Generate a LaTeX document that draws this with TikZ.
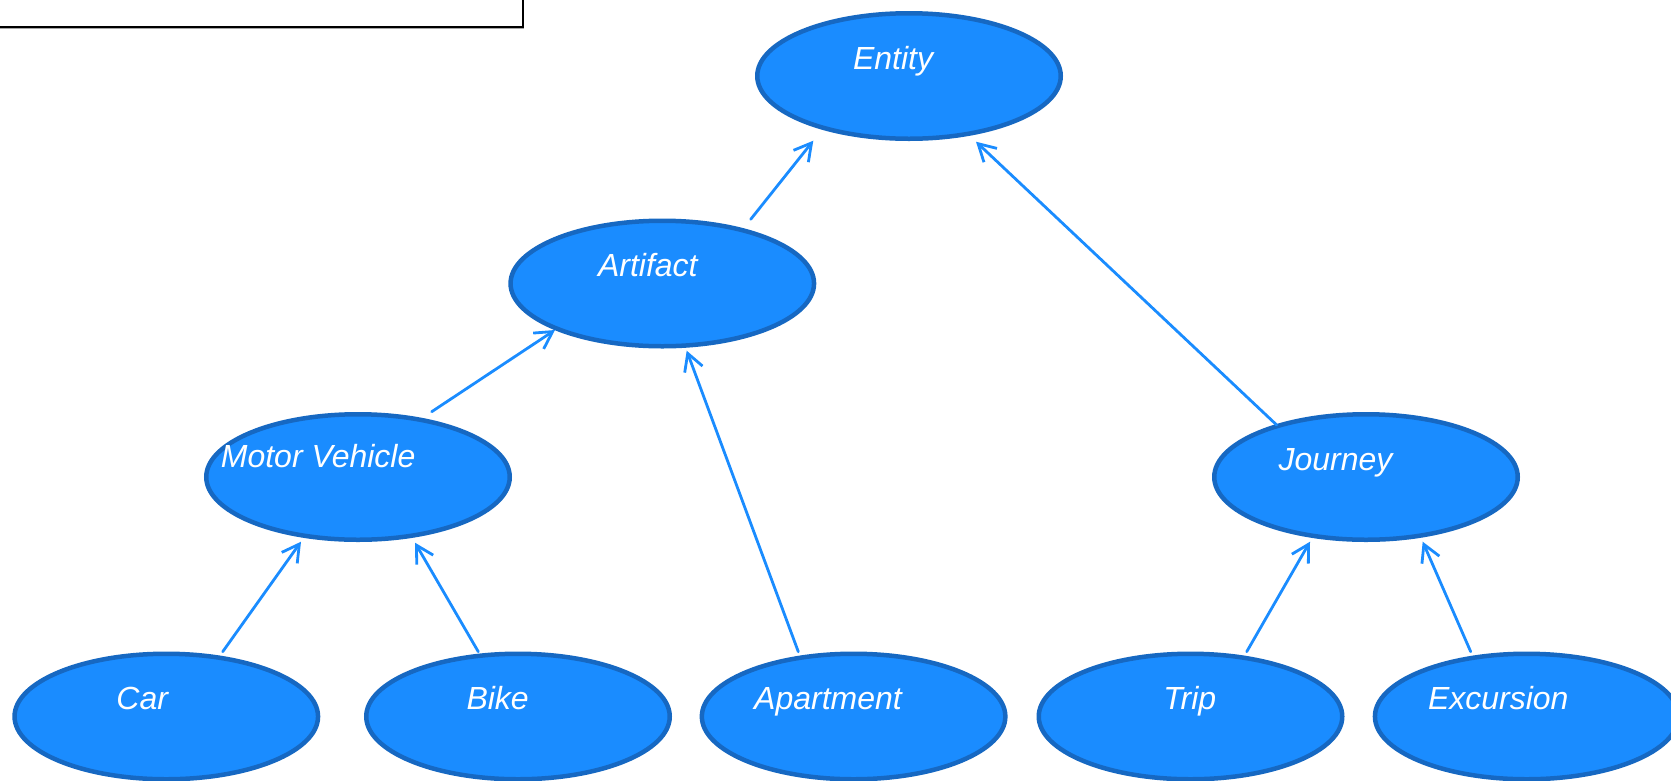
\documentclass[tikz,border=0pt]{standalone}
\usepackage{fontspec}
\setmainfont{Liberation Sans}
\usetikzlibrary{calc,shapes.geometric,arrows.meta,shadows}

\definecolor{classfill}{HTML}{1A8CFF}
\definecolor{classborder}{HTML}{1668C2}
\definecolor{linkblue}{HTML}{1A8CFF}

\tikzset{
  classnode/.style={ellipse, draw=classborder, fill=classfill, line width=4.5pt,
    minimum width=303.5pt, minimum height=125.5pt, inner sep=0pt},
  classlabel/.style={anchor=base west, inner sep=0pt, text=white,
    font=\fontsize{32}{36}\selectfont\itshape},
  isa/.style={draw=linkblue, line width=2.8pt, line cap=round,
    -{Straight Barb[length=17pt,width=19pt,line width=2.8pt]}},
  framebox/.style={draw=black, fill=white, line width=2pt,
    drop shadow={shadow xshift=1.6pt, shadow yshift=-1.6pt, fill=gray!70, opacity=1}}
}

\begin{document}
\begin{tikzpicture}[x=1pt,y=-1pt]
  \useasboundingbox (0,0) rectangle (1671,780);
  \clip (0,0) rectangle (1671,780);

  % frame in the upper left corner
  \node[framebox, minimum width=542.7pt, minimum height=47.2pt, inner sep=0pt]
    (frame) at (251.35,3.6) {};

  % class ellipses
  \node[classnode] (entity)    at (909,76)      {};
  \node[classnode] (artifact)  at (662.3,283.5) {};
  \node[classnode] (motor)     at (358,477)     {};
  \node[classnode] (journey)   at (1366,477)    {};
  \node[classnode] (car)       at (166.3,716.5) {};
  \node[classnode] (bike)      at (518,716.5)   {};
  \node[classnode] (apartment) at (853.6,716.5) {};
  \node[classnode] (trip)      at (1190.5,716.5){};
  \node[classnode] (excursion) at (1526.7,716.5){};

  % class names
  \node[classlabel] (entity-l)    at (852.8,69.3)  {Entity};
  \node[classlabel] (artifact-l)  at (597.8,276)   {Artifact};
  \node[classlabel] (motor-l)     at (220.7,467.3) {Motor Vehicle};
  \node[classlabel] (journey-l)   at (1278.3,470.5){Journey};
  \node[classlabel] (car-l)       at (116.2,709.3) {Car};
  \node[classlabel] (bike-l)      at (466.3,709.3) {Bike};
  \node[classlabel] (apartment-l) at (754,709.3)   {Apartment};
  \node[classlabel] (trip-l)      at (1163.2,709.3){Trip};
  \node[classlabel] (excursion-l) at (1427.8,709)  {Excursion};

  % is-a links, child to parent
  \draw[isa] ($(artifact.center)+(88.4,-64.2)$) -- ($(entity.center)+(-95.7,64.7)$);
  \draw[isa] ($(journey.center)+(-89.3,-52)$) -- ($(entity.center)+(67,65.7)$);
  \draw[isa] ($(motor.center)+(73.7,-65.3)$) -- ($(artifact.center)+(-107.3,46.5)$);
  \draw[isa] ($(apartment.center)+(-55.3,-64.8)$) -- ($(artifact.center)+(24.4,67.2)$);
  \draw[isa] ($(car.center)+(56.4,-64.8)$) -- ($(motor.center)+(-57,64.7)$);
  \draw[isa] ($(bike.center)+(-39.7,-64.8)$) -- ($(motor.center)+(57,65.7)$);
  \draw[isa] ($(trip.center)+(56.2,-64.8)$) -- ($(journey.center)+(-56,64.7)$);
  \draw[isa] ($(excursion.center)+(-56,-64.8)$) -- ($(journey.center)+(56.7,64.7)$);
\end{tikzpicture}
\end{document}
